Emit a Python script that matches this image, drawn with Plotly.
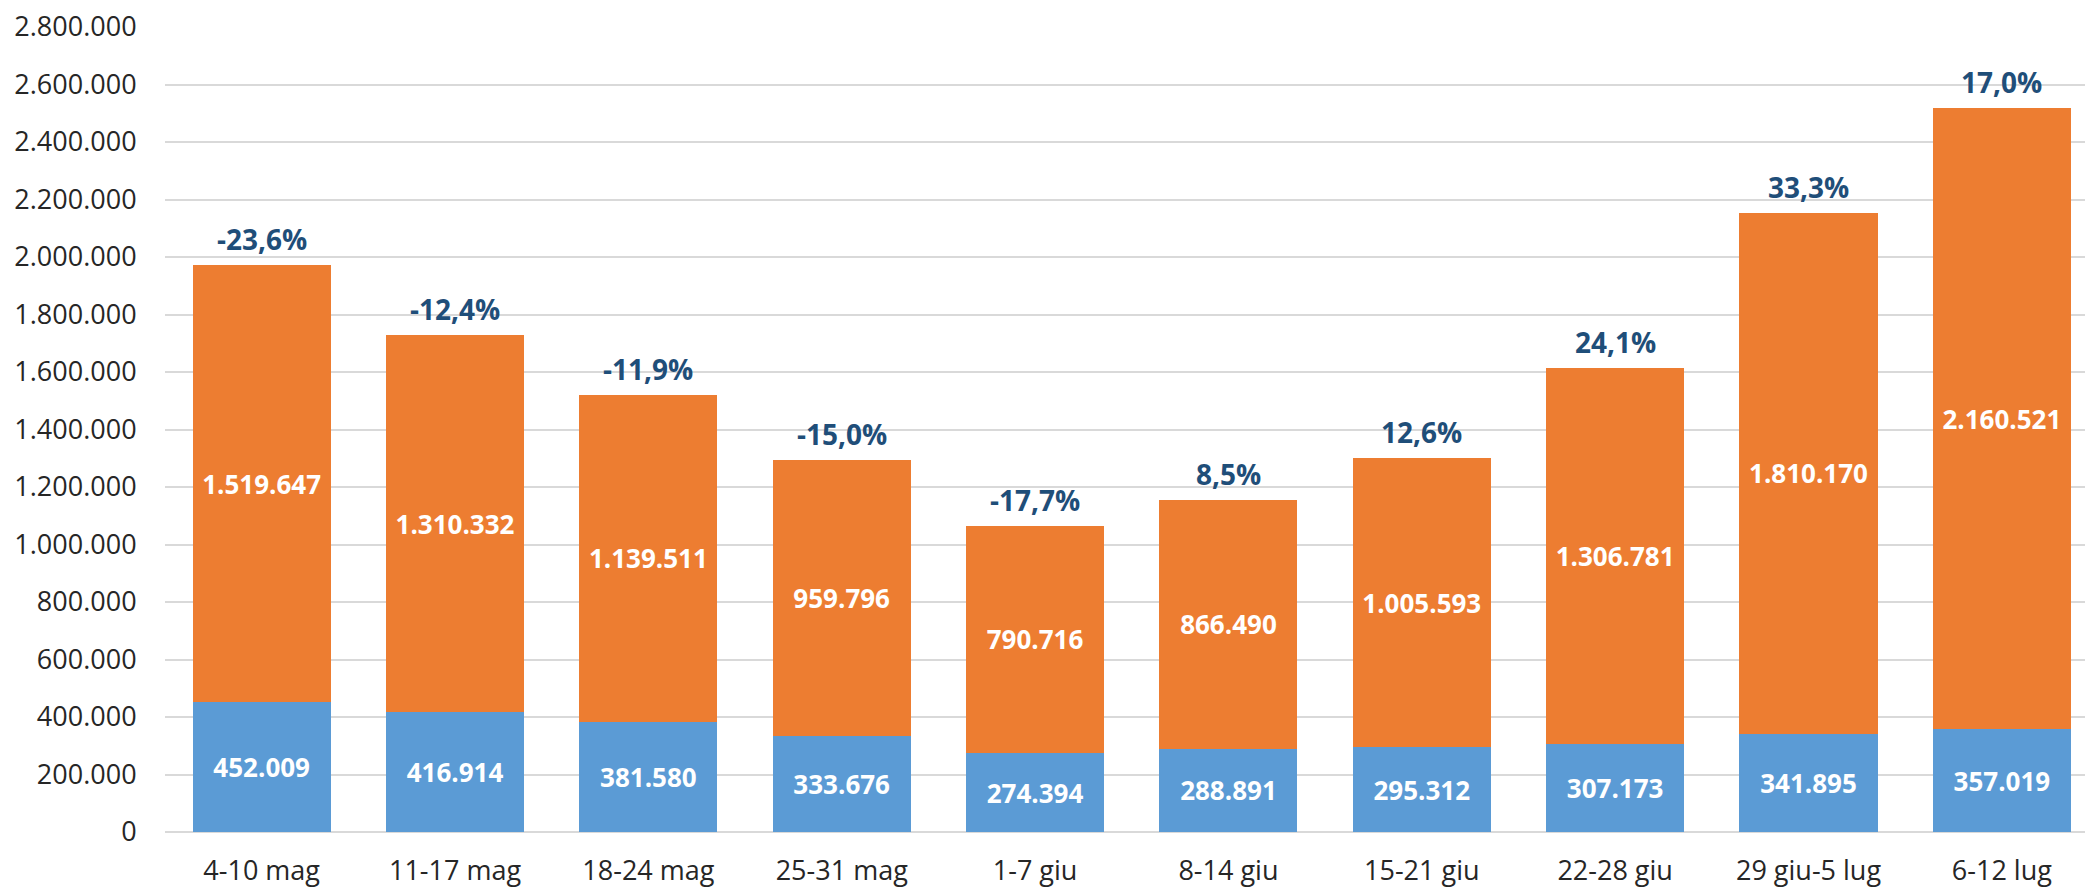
import plotly.graph_objects as go

categories = ["4-10 mag", "11-17 mag", "18-24 mag", "25-31 mag", "1-7 giu",
              "8-14 giu", "15-21 giu", "22-28 giu", "29 giu-5 lug", "6-12 lug"]
blue_values = [452009, 416914, 381580, 333676, 274394, 288891, 295312, 307173, 341895, 357019]
orange_values = [1519647, 1310332, 1139511, 959796, 790716, 866490, 1005593, 1306781, 1810170, 2160521]
pct_labels = ["-23,6%", "-12,4%", "-11,9%", "-15,0%", "-17,7%", "8,5%", "12,6%", "24,1%", "33,3%", "17,0%"]
y_ticks = list(range(0, 2800001, 200000))

def fmt(v):
    return f"{v:,}".replace(",", ".")

totals = [b + o for b, o in zip(blue_values, orange_values)]
FONT = "Open Sans"

fig = go.Figure()
fig.add_trace(go.Bar(
    x=categories, y=blue_values, marker_color="#5B9BD5", marker_line_width=0,
    text=[fmt(v) for v in blue_values], textposition="inside", insidetextanchor="middle",
    textangle=0, textfont=dict(family=FONT, size=26, color="white", weight="bold"),
    showlegend=False, hoverinfo="skip"))
fig.add_trace(go.Bar(
    x=categories, y=orange_values, marker_color="#ED7D31", marker_line_width=0,
    text=[fmt(v) for v in orange_values], textposition="inside", insidetextanchor="middle",
    textangle=0, textfont=dict(family=FONT, size=26, color="white", weight="bold"),
    showlegend=False, hoverinfo="skip"))

for c, t, p in zip(categories, totals, pct_labels):
    fig.add_annotation(x=c, y=t, text=p, showarrow=False, yanchor="bottom", yshift=5,
                       font=dict(family=FONT, size=28, color="#1F4E79", weight="bold"))

fig.update_layout(
    width=2085, height=887, barmode="stack", bargap=0.286,
    margin=dict(l=165, r=0, t=27, b=55),
    plot_bgcolor="white", paper_bgcolor="white",
    separators=",.",
    font=dict(family=FONT, color="#262626"),
)
fig.update_xaxes(range=[-0.5, 9.43], showgrid=False, showline=False, zeroline=False,
                 tickfont=dict(size=27, color="#262626"), ticks="outside", ticklen=15,
                 tickcolor="rgba(0,0,0,0)", automargin=False)
fig.update_yaxes(range=[0, 2800000], tickvals=y_ticks, tickformat=",d",
                 showgrid=True, gridcolor="#D9D9D9", gridwidth=2,
                 zeroline=True, zerolinecolor="#D9D9D9", zerolinewidth=2,
                 showline=False, tickfont=dict(size=27, color="#262626"),
                 ticks="outside", ticklen=22, tickcolor="rgba(0,0,0,0)", automargin=False)

fig.write_html("out.html", config={"displayModeBar": False},
               post_script="document.body.style.margin='0';document.body.style.padding='0';document.body.style.overflow='hidden';")
